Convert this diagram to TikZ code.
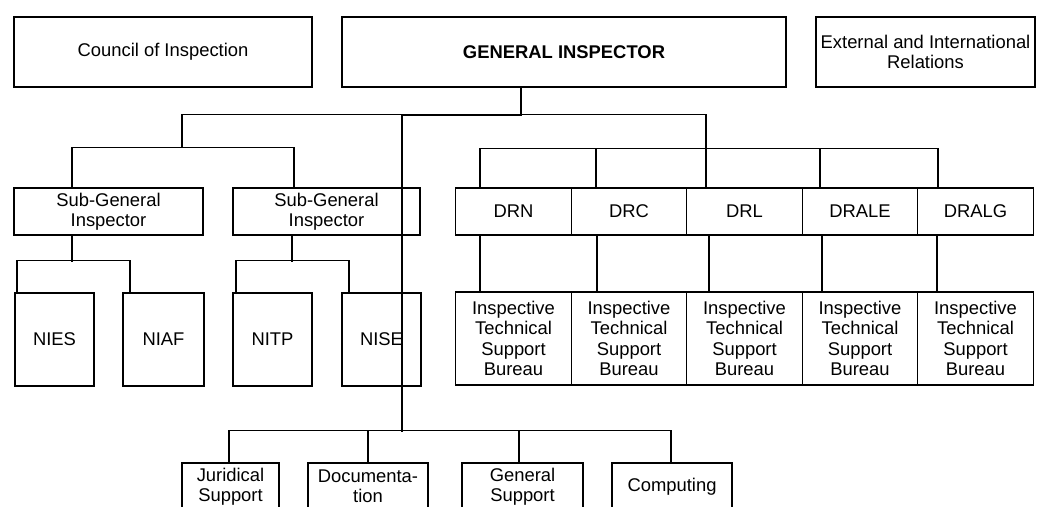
\documentclass[tikz,border=0pt]{standalone}
\usepackage{fontspec}
\setmainfont{Liberation Sans}

\begin{document}
\begin{tikzpicture}[x=1pt, y=-1pt, line width=1.1pt, node distance=115.5pt,
    box/.style={draw, align=center, inner sep=2pt, font=\fontsize{18.4}{20.5}\selectfont},
    head/.style={box, minimum height=70pt},
    unit/.style={box, minimum width=115.5pt, minimum height=47pt},
    bureau/.style={box, minimum width=115.5pt, minimum height=93pt},
    sect/.style={box, minimum width=79pt, minimum height=93pt},
    office/.style={box, minimum height=47pt}]
    \path[fill=white] (0,0) rectangle (1043,506);
    \useasboundingbox (0,0) rectangle (1043,506);

    \node[head, minimum width=298pt] (council) at (163,52) {Council of Inspection};
    \node[head, minimum width=444pt, font=\fontsize{18.4}{20.5}\selectfont\bfseries] (gi) at (564,52) {GENERAL INSPECTOR};
    \node[head, minimum width=219pt] (ext) at (925.5,52) {External and International\\Relations};

    \node[unit, minimum width=189pt] (sgi1) at (108.5,211.5) {Sub-General\\Inspector};
    \node[unit, minimum width=187pt] (sgi2) at (326.5,211.5) {Sub-General\\Inspector};

    \node[unit] (drn) at (513.5,211.5) {DRN};
    \node[unit, right of=drn] (drc) {DRC};
    \node[unit, right of=drc] (drl) {DRL};
    \node[unit, right of=drl] (drale) {DRALE};
    \node[unit, right of=drale] (dralg) {DRALG};

    \node[bureau, node distance=127pt, below of=drn] (itsb1) {Inspective\\Technical\\Support\\Bureau};
    \node[bureau, right of=itsb1] (itsb2) {Inspective\\Technical\\Support\\Bureau};
    \node[bureau, right of=itsb2] (itsb3) {Inspective\\Technical\\Support\\Bureau};
    \node[bureau, right of=itsb3] (itsb4) {Inspective\\Technical\\Support\\Bureau};
    \node[bureau, right of=itsb4] (itsb5) {Inspective\\Technical\\Support\\Bureau};

    \node[sect] (nies) at (54.5,339.5) {NIES};
    \node[sect, minimum width=81pt, node distance=109pt, right of=nies] (niaf) {NIAF};
    \node[sect, node distance=109pt, right of=niaf] (nitp) {NITP};
    \node[sect, node distance=109pt, right of=nitp] (nise) {NISE};

    \node[office, minimum width=97pt] (jur) at (230.5,486.5) {Juridical\\Support};
    \node[office, minimum width=120pt] (doc) at (368,486.5) {Documenta-\\tion};
    \node[office, minimum width=121pt] (gen) at (522.5,486.5) {General\\Support};
    \node[office, minimum width=120pt] (comp) at (672,486.5) {Computing};

    \draw ([xshift=-43pt]gi.south) -- ++(0,28) -- ++(-119,0) -- ++(0,316);
    \draw ([xshift=-38.5pt]drl.north) -- ++(0,-73) -- ++(-524,0) -- ++(0,33);
    \draw ([xshift=-36.5pt]sgi1.north) -- ++(0,-40) -| ([xshift=-32.5pt]sgi2.north);
    \draw ([xshift=-33.5pt]drn.north) -- ++(0,-39) -| ([xshift=-37.5pt]dralg.north);
    \draw ([xshift=-33pt]drc.north) -- ++(0,-39);
    \draw ([xshift=-40pt]drale.north) -- ++(0,-39);

    \draw ([xshift=-33.5pt]drn.south) -- ([xshift=-33.5pt]itsb1.north);
    \draw ([xshift=-32pt]drc.south) -- ([xshift=-32pt]itsb2.north);
    \draw ([xshift=-35.5pt]drl.south) -- ([xshift=-35.5pt]itsb3.north);
    \draw ([xshift=-38pt]drale.south) -- ([xshift=-38pt]itsb4.north);
    \draw ([xshift=-38.5pt]dralg.south) -- ([xshift=-38.5pt]itsb5.north);

    \draw ([xshift=-36.5pt]sgi1.south) -- ++(0,26);
    \draw ([xshift=-37.5pt]nies.north) -- ++(0,-32) -| ([xshift=-33.5pt]niaf.north);
    \draw ([xshift=-34.5pt]sgi2.south) -- ++(0,26);
    \draw ([xshift=-36.5pt]nitp.north) -- ++(0,-32) -| ([xshift=-32.5pt]nise.north);

    \draw ([xshift=-1.5pt]jur.north) -- ++(0,-32) -| ([xshift=-1pt]comp.north);
    \draw (doc.north) -- ++(0,-32);
    \draw ([xshift=-3.5pt]gen.north) -- ++(0,-32);
\end{tikzpicture}
\end{document}
